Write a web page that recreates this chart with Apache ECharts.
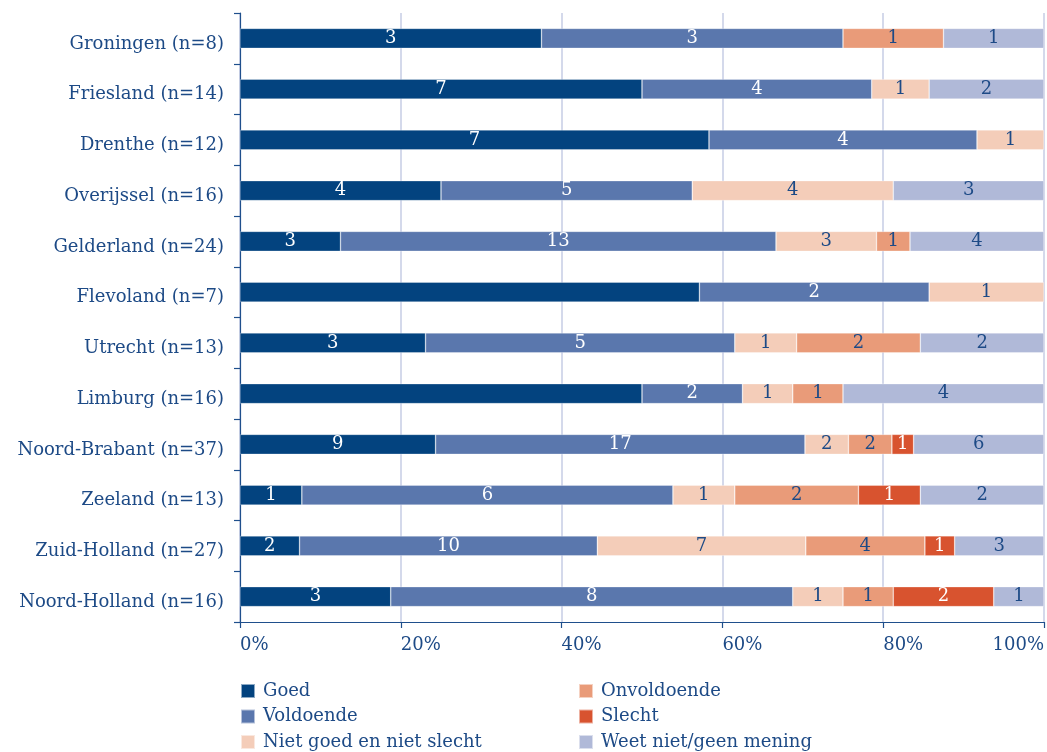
<!DOCTYPE html>
<html>
<head>
<meta charset="utf-8">
<script src="https://cdn.jsdelivr.net/npm/echarts@6/dist/echarts.min.js"></script>
<style>
  html, body { margin: 0; padding: 0; background: #ffffff; }
  #chart { width: 1047px; height: 752px; }
</style>
</head>
<body>
<div id="chart"></div>
<script>
// Provinces (top to bottom) and number of respondents per province
const provinces = ['Groningen', 'Friesland', 'Drenthe', 'Overijssel', 'Gelderland', 'Flevoland',
  'Utrecht', 'Limburg', 'Noord-Brabant', 'Zeeland', 'Zuid-Holland', 'Noord-Holland'];
const respondents = [8, 14, 12, 16, 24, 7, 13, 16, 37, 13, 27, 16];

// Answer counts per province
const goed               = [3, 7, 7, 4, 3, 4, 3, 8, 9, 1, 2, 3];
const voldoende          = [3, 4, 4, 5, 13, 2, 5, 2, 17, 6, 10, 8];
const nietGoedNietSlecht = [0, 1, 1, 4, 3, 1, 1, 1, 2, 1, 7, 1];
const onvoldoende        = [1, 0, 0, 0, 1, 0, 2, 1, 2, 2, 4, 1];
const slecht             = [0, 0, 0, 0, 0, 0, 0, 0, 1, 1, 1, 2];
const weetNiet           = [1, 2, 0, 3, 4, 0, 2, 4, 6, 2, 3, 1];

const answerNames = ['Goed', 'Voldoende', 'Niet goed en niet slecht', 'Onvoldoende', 'Slecht', 'Weet niet/geen mening'];
const answerCounts = [goed, voldoende, nietGoedNietSlecht, onvoldoende, slecht, weetNiet];

// Percentage axis ticks
const percentMin = 0;
const percentMax = 100;
const percentStep = 20;

// Provinces whose "Goed" segment carries no count label
const unlabelledGoed = ['Flevoland', 'Limburg'];

const FONT = 'DejaVu Serif';
const TEXT = '#1d4a86';
const colors = ['#03437f', '#5a77ad', '#f4cdb9', '#e99b79', '#d8532f', '#b0b9d8'];
const labelColors = ['#ffffff', '#ffffff', TEXT, TEXT, '#ffffff', TEXT];

const series = answerNames.map((name, s) => ({
  name,
  type: 'bar',
  stack: 'total',
  barWidth: 20,
  itemStyle: { color: colors[s], borderColor: 'rgba(255,255,255,0.55)', borderWidth: 0.6 },
  label: {
    show: true,
    position: 'inside',
    color: labelColors[s],
    fontFamily: FONT,
    fontSize: 18,
    formatter: p => String(answerCounts[s][p.dataIndex])
  },
  data: answerCounts[s].map((c, i) => {
    if (!c) return null;
    const item = { value: c / respondents[i] * 100 };
    if (s === 0 && unlabelledGoed.includes(provinces[i])) item.label = { show: false };
    return item;
  })
}));

const legendBase = {
  orient: 'vertical',
  top: 682,
  padding: 0,
  itemWidth: 14,
  itemHeight: 14,
  itemGap: 7.5,
  icon: 'rect',
  textStyle: { fontFamily: FONT, fontSize: 18, color: TEXT, padding: [0, 0, 0, 3] }
};

const option = {
  backgroundColor: '#ffffff',
  animation: false,
  textStyle: { fontFamily: FONT },
  grid: { left: 240, right: 2, top: 13, bottom: 130, containLabel: false },
  legend: [
    Object.assign({}, legendBase, { left: 240, data: answerNames.slice(0, 3) }),
    Object.assign({}, legendBase, { left: 578, data: answerNames.slice(3) })
  ],
  xAxis: {
    type: 'value',
    min: percentMin,
    max: percentMax,
    interval: percentStep,
    axisLine: { show: true, lineStyle: { color: '#1f4f8c', width: 1.2 } },
    axisTick: { show: true, length: 6, lineStyle: { color: '#1f4f8c', width: 1.2 } },
    splitLine: { show: true, lineStyle: { color: '#c6cce4', width: 1.5 } },
    axisLabel: {
      formatter: '{value}%',
      align: 'left',
      alignMaxLabel: 'right',
      margin: 14,
      fontFamily: FONT,
      fontSize: 18,
      color: TEXT
    }
  },
  yAxis: {
    type: 'category',
    inverse: true,
    data: provinces.map((p, i) => `${p} (n=${respondents[i]})`),
    axisLine: { show: true, lineStyle: { color: '#1f4f8c', width: 1.2 } },
    axisTick: { show: true, length: 6, alignWithLabel: false, lineStyle: { color: '#1f4f8c', width: 1.2 } },
    axisLabel: {
      margin: 16,
      formatter: v => `{p|${v}}`,
      rich: { p: { padding: [11, 0, 0, 0], fontFamily: FONT, fontSize: 18, color: TEXT } }
    }
  },
  series
};

const chart = echarts.init(document.getElementById('chart'), null, { renderer: 'canvas' });
chart.setOption(option);
</script>
</body>
</html>
